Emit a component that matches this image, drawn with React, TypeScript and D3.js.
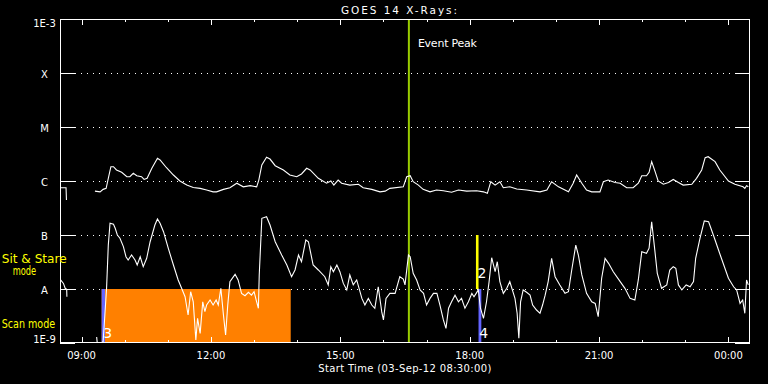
import React from 'react';
import * as d3 from 'd3';

// ---- data (times in decimal hours of 03-Sep-2012, >24 = next day; flux in W/m^2) ----
const startHour = 8.5;
const endHour = 24.5;

const longChannel: [number, number | null][] = [
  [8.50, 7.5e-7], [8.64, 7.5e-7], [8.65, 4.45e-7], [8.70, null],
  [9.31, 6.5e-7], [9.43, 6.3e-7], [9.50, 7.0e-7], [9.57, 7.3e-7], [9.62, 1.12e-6], [9.68, 1.84e-6],
  [9.74, 1.84e-6], [9.81, 1.60e-6], [9.93, 1.45e-6], [10.05, 1.20e-6], [10.12, 1.20e-6], [10.20, 1.39e-6],
  [10.28, 1.25e-6], [10.39, 1.20e-6], [10.45, 1.07e-6], [10.52, 1.12e-6], [10.63, 1.72e-6], [10.76, 2.63e-6],
  [10.82, 2.45e-6], [10.97, 1.76e-6], [11.13, 1.29e-6], [11.28, 1.0e-6], [11.44, 8.4e-7], [11.59, 7.6e-7],
  [11.75, 7.3e-7], [11.90, 6.8e-7], [12.05, 6.3e-7], [12.13, 6.3e-7], [12.29, 7.0e-7], [12.44, 7.5e-7],
  [12.60, 9.1e-7], [12.75, 7.8e-7], [12.91, 8.2e-7], [13.06, 7.8e-7], [13.11, 1.04e-6], [13.18, 1.98e-6],
  [13.29, 2.75e-6], [13.37, 2.55e-6], [13.49, 1.92e-6], [13.68, 1.60e-6], [13.83, 1.29e-6], [13.99, 1.20e-6],
  [14.10, 1.35e-6], [14.22, 1.72e-6], [14.30, 1.60e-6], [14.49, 1.12e-6], [14.68, 9.1e-7], [14.78, 1.0e-6],
  [14.85, 8.4e-7], [14.95, 1.04e-6], [15.03, 9.1e-7], [15.22, 8.4e-7], [15.42, 8.7e-7], [15.53, 7.5e-7],
  [15.73, 7.0e-7], [15.92, 6.3e-7], [16.04, 6.5e-7], [16.15, 7.3e-7], [16.46, 7.8e-7], [16.54, 1.20e-6],
  [16.62, 1.25e-6], [16.69, 9.7e-7], [16.81, 8.4e-7], [16.92, 7.0e-7], [17.08, 6.3e-7], [17.23, 6.8e-7],
  [17.39, 6.6e-7], [17.58, 6.2e-7], [17.74, 6.8e-7], [17.93, 6.5e-7], [18.16, 6.6e-7], [18.32, 6.3e-7],
  [18.41, 5.9e-7], [18.49, 9.7e-7], [18.59, 8.4e-7], [18.70, 9.7e-7], [18.78, 7.5e-7], [18.93, 7.8e-7],
  [19.09, 7.1e-7], [19.32, 6.8e-7], [19.63, 6.3e-7], [19.79, 6.8e-7], [19.90, 9.7e-7], [20.06, 7.8e-7],
  [20.29, 6.3e-7], [20.40, 9.1e-7], [20.48, 1.29e-6], [20.60, 9.1e-7], [20.71, 6.8e-7], [20.83, 6.3e-7],
  [21.02, 6.3e-7], [21.10, 9.7e-7], [21.21, 1.04e-6], [21.37, 9.4e-7], [21.49, 9.1e-7], [21.64, 7.5e-7],
  [21.79, 7.5e-7], [21.91, 9.1e-7], [21.99, 1.25e-6], [22.10, 1.25e-6], [22.16, 1.45e-6], [22.22, 2.28e-6],
  [22.30, 1.49e-6], [22.37, 1.0e-6], [22.49, 8.7e-7], [22.61, 9.4e-7], [22.72, 1.07e-6], [22.84, 9.4e-7],
  [22.95, 8.4e-7], [23.15, 8.7e-7], [23.26, 1.12e-6], [23.38, 1.60e-6], [23.46, 2.70e-6], [23.53, 2.82e-6],
  [23.69, 2.28e-6], [23.80, 1.60e-6], [24.00, 1.0e-6], [24.15, 8.7e-7], [24.34, 7.8e-7], [24.38, 7.3e-7],
  [24.42, 8.2e-7], [24.46, 7.8e-7],
];

const shortChannel: [number, number | null][] = [
  [8.50, 1.53e-8], [8.58, 1.27e-8], [8.62, 1.03e-8], [8.655, 9.9e-9], [8.66, 7.2e-9], [8.70, null],
  [9.35, 1.29e-9], [9.37, 9.0e-10], [9.50, 1.06e-9], [9.54, 3.3e-9], [9.58, 1.03e-8], [9.62, 6.5e-8],
  [9.66, 1.65e-7], [9.74, 1.58e-7], [9.78, 1.33e-7], [9.83, 1.0e-7], [9.89, 8.7e-8], [9.97, 6.1e-8],
  [10.03, 3.96e-8], [10.08, 3.45e-8], [10.16, 4.26e-8], [10.24, 3.45e-8], [10.29, 2.78e-8], [10.36, 3.96e-8],
  [10.43, 2.59e-8], [10.51, 3.70e-8], [10.59, 7.5e-8], [10.70, 1.53e-7], [10.76, 1.98e-7], [10.82, 1.65e-7],
  [10.90, 1.15e-7], [11.01, 5.7e-8], [11.13, 2.78e-8], [11.24, 1.47e-8], [11.32, 1.03e-8], [11.40, 7.2e-9],
  [11.47, 3.3e-9], [11.53, 8.9e-9], [11.59, 5.8e-9], [11.65, 1.14e-9], [11.69, 2.86e-9], [11.75, 1.51e-9],
  [11.81, 5.8e-9], [11.86, 3.8e-9], [11.90, 5.05e-9], [11.98, 6.25e-9], [12.05, 5.05e-9], [12.12, 6.25e-9],
  [12.17, 5.05e-9], [12.23, 1.03e-8], [12.29, 3.3e-9], [12.34, 1.41e-9], [12.39, 5.05e-9], [12.44, 1.37e-8],
  [12.56, 1.87e-8], [12.63, 1.47e-8], [12.71, 8.3e-9], [12.79, 7.5e-9], [12.87, 8.7e-9], [12.94, 7.7e-9],
  [13.00, 8.9e-9], [13.06, 5.8e-9], [13.10, 4.4e-9], [13.12, 1.82e-8], [13.18, 2.04e-7], [13.29, 2.18e-7],
  [13.37, 1.53e-7], [13.49, 7.5e-8], [13.64, 4.26e-8], [13.76, 2.78e-8], [13.87, 1.69e-8], [13.95, 2.25e-8],
  [14.03, 4.26e-8], [14.10, 3.2e-8], [14.20, 8.1e-8], [14.26, 7.5e-8], [14.37, 2.78e-8], [14.49, 2.25e-8],
  [14.64, 1.69e-8], [14.72, 1.19e-8], [14.78, 2.59e-8], [14.84, 2.09e-8], [14.92, 2.78e-8], [14.99, 2.09e-8],
  [15.07, 1.27e-8], [15.15, 9.6e-9], [15.22, 1.82e-8], [15.30, 1.19e-8], [15.38, 1.47e-8], [15.50, 6.7e-9],
  [15.57, 5.05e-9], [15.65, 6.7e-9], [15.73, 5.05e-9], [15.80, 4.4e-9], [15.88, 1.10e-8], [15.96, 3.8e-9],
  [16.00, 2.67e-9], [16.06, 6.7e-9], [16.15, 8.3e-9], [16.27, 8.3e-9], [16.38, 1.69e-8], [16.46, 1.53e-8],
  [16.50, 1.19e-8], [16.58, 4.26e-8], [16.62, 3.96e-8], [16.69, 1.95e-8], [16.77, 1.47e-8], [16.85, 9.6e-9],
  [16.93, 8.3e-9], [17.00, 5.05e-9], [17.08, 6.7e-9], [17.16, 8.3e-9], [17.24, 8.3e-9], [17.31, 5.05e-9],
  [17.39, 2.67e-9], [17.45, 1.87e-9], [17.51, 4.4e-9], [17.58, 5.8e-9], [17.66, 7.7e-9], [17.74, 5.8e-9],
  [17.81, 6.7e-9], [17.89, 4.4e-9], [17.97, 5.8e-9], [18.05, 8.3e-9], [18.10, 7.2e-9], [18.15, 8.3e-9],
  [18.20, 9.6e-9], [18.25, 4.4e-9], [18.32, 2.86e-9], [18.39, 5.8e-9], [18.45, 1.37e-8], [18.51, 3.8e-8],
  [18.59, 2.09e-8], [18.64, 3.2e-8], [18.70, 1.37e-8], [18.78, 8.3e-9], [18.86, 1.03e-8], [18.93, 1.37e-8],
  [19.05, 6.7e-9], [19.10, 3.55e-9], [19.14, 1.22e-9], [19.18, 5.8e-9], [19.24, 9.6e-9], [19.32, 8.7e-9],
  [19.40, 7.7e-9], [19.46, 5.05e-9], [19.55, 4.08e-9], [19.63, 3.55e-9], [19.69, 5.05e-9], [19.75, 7.7e-9],
  [19.82, 1.37e-8], [19.90, 3.70e-8], [19.98, 1.69e-8], [20.09, 1.19e-8], [20.21, 8.3e-9], [20.29, 8.9e-9],
  [20.36, 2.09e-8], [20.46, 6.5e-8], [20.52, 4.26e-8], [20.60, 1.82e-8], [20.71, 8.3e-9], [20.83, 5.8e-9],
  [20.91, 5.4e-9], [20.98, 3.07e-9], [21.06, 1.58e-8], [21.14, 3.70e-8], [21.22, 2.99e-8], [21.33, 2.09e-8],
  [21.49, 1.37e-8], [21.60, 1.03e-8], [21.72, 6.7e-9], [21.83, 6.25e-9], [21.91, 1.47e-8], [21.99, 4.9e-8],
  [22.10, 4.58e-8], [22.16, 5.7e-8], [22.22, 1.76e-7], [22.28, 6.5e-8], [22.35, 1.95e-8], [22.45, 1.03e-8],
  [22.57, 1.19e-8], [22.64, 2.25e-8], [22.72, 2.59e-8], [22.78, 2.42e-8], [22.84, 1.19e-8], [22.92, 9.6e-9],
  [23.02, 1.19e-8], [23.11, 1.10e-8], [23.19, 1.37e-8], [23.24, 3.70e-8], [23.34, 8.7e-8], [23.44, 1.82e-7],
  [23.54, 1.76e-7], [23.65, 1.0e-7], [23.81, 4.26e-8], [24.00, 1.58e-8], [24.12, 1.10e-8], [24.19, 9.6e-9],
  [24.27, 5.4e-9], [24.33, 6.25e-9], [24.38, 3.55e-9], [24.42, 1.47e-8], [24.46, 1.19e-8],
];

const yTickValues = [1e-9, 1e-8, 1e-7, 1e-6, 1e-5, 1e-4, 1e-3];
const yTickLabels = ['1E-9', 'A', 'B', 'C', 'M', 'X', '1E-3'];
const labeledHours = [9, 12, 15, 18, 21, 24];

const scanModeSpan: [number, number] = [9.466, 13.85];
const scanBand: [number, number] = [1e-9, 1e-8];
const sitStareSpan: [number, number] = [18.145, 18.205];
const sitStareBand: [number, number] = [1e-8, 1e-7];
const pointingSpans: [number, number][] = [[9.466, 9.543], [18.205, 18.27]];
const eventPeakHour = 16.59;
const noteLabels = ['3', '2', '4'];
const noteHours = [9.50, 18.18, 18.22];
const noteFlux = [1.24e-9, 1.58e-8, 1.25e-9];

const title = 'GOES 14 X-Rays:';
const xTitle = 'Start Time (03-Sep-12 08:30:00)';

const hourToDate = (h: number) => new Date(Date.UTC(2012, 8, 3) + h * 3600000);

export default function App() {
  const L = 60, R = 750, T = 19, B = 343;
  const x = d3.scaleUtc().domain([hourToDate(startHour), hourToDate(endHour)]).range([L, R]);
  const y = d3.scaleLog().domain([1e-9, 1e-3]).range([B, T]);
  const fmt = d3.utcFormat('%H:%M');

  const line = d3
    .line<[number, number | null]>()
    .defined((d) => d[1] != null)
    .x((d) => x(hourToDate(d[0])))
    .y((d) => y(d[1] as number));

  const hours = d3.utcHour.every(1)!.range(hourToDate(startHour), hourToDate(endHour + 0.01));
  const font = 'DejaVu Sans, sans-serif';
  const peakX = x(hourToDate(eventPeakHour));

  return (
    <svg width={768} height={384} style={{ position: 'absolute', left: 0, top: 0, background: '#000' }}>
      <rect x={0} y={0} width={768} height={384} fill="#000" />
      <defs>
        <clipPath id="plotClip">
          <rect x={L} y={T} width={R - L} height={B - T} />
        </clipPath>
      </defs>

      {/* dotted grid lines */}
      {yTickValues.slice(1, -1).map((v) => (
        <line key={'g' + v} x1={L + 15} x2={R - 15} y1={Math.round(y(v)) + 0.5} y2={Math.round(y(v)) + 0.5}
          stroke="#fff" strokeWidth={1} strokeDasharray="1 5" shapeRendering="crispEdges" />
      ))}

      {/* mode bands */}
      <rect x={x(hourToDate(scanModeSpan[0]))} y={y(scanBand[1])}
        width={x(hourToDate(scanModeSpan[1])) - x(hourToDate(scanModeSpan[0]))}
        height={y(scanBand[0]) - y(scanBand[1])} fill="#ff8000" />
      {pointingSpans.map((s, i) => (
        <rect key={'p' + i} x={x(hourToDate(s[0]))} y={y(scanBand[1])}
          width={x(hourToDate(s[1])) - x(hourToDate(s[0]))}
          height={y(scanBand[0]) - y(scanBand[1])} fill="#6464ff" />
      ))}
      <rect x={x(hourToDate(sitStareSpan[0]))} y={y(sitStareBand[1])}
        width={x(hourToDate(sitStareSpan[1])) - x(hourToDate(sitStareSpan[0]))}
        height={y(sitStareBand[0]) - y(sitStareBand[1])} fill="#ffff00" />

      {/* event peak */}
      <line x1={peakX} x2={peakX} y1={T} y2={B} stroke="#99cc00" strokeWidth={2} />
      <text x={peakX + 9} y={46.5} fill="#fff" fontFamily={font} fontSize={11} textLength={59}>Event Peak</text>

      {/* curves */}
      <g clipPath="url(#plotClip)">
        <path d={line(longChannel) || ''} fill="none" stroke="#fff" strokeWidth={1.1} />
        <path d={line(shortChannel) || ''} fill="none" stroke="#fff" strokeWidth={1.1} />
      </g>

      {/* note labels */}
      {noteLabels.map((t, i) => (
        <text key={'n' + i} x={x(hourToDate(noteHours[i]))} y={y(noteFlux[i])} fill="#fff"
          fontFamily={font} fontSize={14}>{t}</text>
      ))}

      {/* frame */}
      <rect x={L + 0.5} y={T + 0.5} width={R - L - 1} height={B - T - 1} fill="none" stroke="#fff"
        strokeWidth={1} shapeRendering="crispEdges" />

      {/* y ticks and labels */}
      {yTickValues.map((v, i) => {
        const yy = Math.round(y(v)) + 0.5;
        const off = i === 0 ? 0.3 : i === yTickValues.length - 1 ? 8 : 4.5;
        return (
          <g key={'y' + v}>
            <line x1={L} x2={L + 15} y1={yy} y2={yy} stroke="#fff" shapeRendering="crispEdges" />
            <line x1={R - 15} x2={R} y1={yy} y2={yy} stroke="#fff" shapeRendering="crispEdges" />
            <text x={44.5} y={y(v) + off} fill="#fff" fontFamily={font} fontSize={10} textAnchor="middle">
              {yTickLabels[i]}
            </text>
          </g>
        );
      })}

      {/* x ticks */}
      {hours.map((d) => {
        const h = d.getUTCHours();
        const major = h % 3 === 0;
        const xx = Math.round(x(d)) + 0.5;
        const len = major ? 6 : 3;
        return (
          <g key={'x' + d.getTime()}>
            <line x1={xx} x2={xx} y1={T} y2={T + len} stroke="#fff" shapeRendering="crispEdges" />
            <line x1={xx} x2={xx} y1={B} y2={B - len} stroke="#fff" shapeRendering="crispEdges" />
          </g>
        );
      })}
      {labeledHours.map((h) => (
        <text key={'xl' + h} x={x(hourToDate(h))} y={359} fill="#fff" fontFamily={font} fontSize={10}
          textAnchor="middle">{fmt(hourToDate(h))}</text>
      ))}

      {/* titles */}
      <text x={341} y={13.5} fill="#fff" fontFamily={font} fontSize={10.5} textLength={116}>{title}</text>
      <text x={318.3} y={371.5} fill="#fff" fontFamily={font} fontSize={10} textLength={173}>{xTitle}</text>

      {/* mode legend */}
      <text x={1.7} y={262.5} fill="#ffff00" fontFamily={font} fontSize={11.5} textLength={65}
        lengthAdjust="spacingAndGlyphs">Sit &amp; Stare</text>
      <text x={12.7} y={275} fill="#ffff00" fontFamily={font} fontSize={11.5} textLength={23.5}
        lengthAdjust="spacingAndGlyphs">mode</text>
      <text x={1.7} y={328} fill="#ffff00" fontFamily={font} fontSize={11.5} textLength={53.5}
        lengthAdjust="spacingAndGlyphs">Scan mode</text>
    </svg>
  );
}
